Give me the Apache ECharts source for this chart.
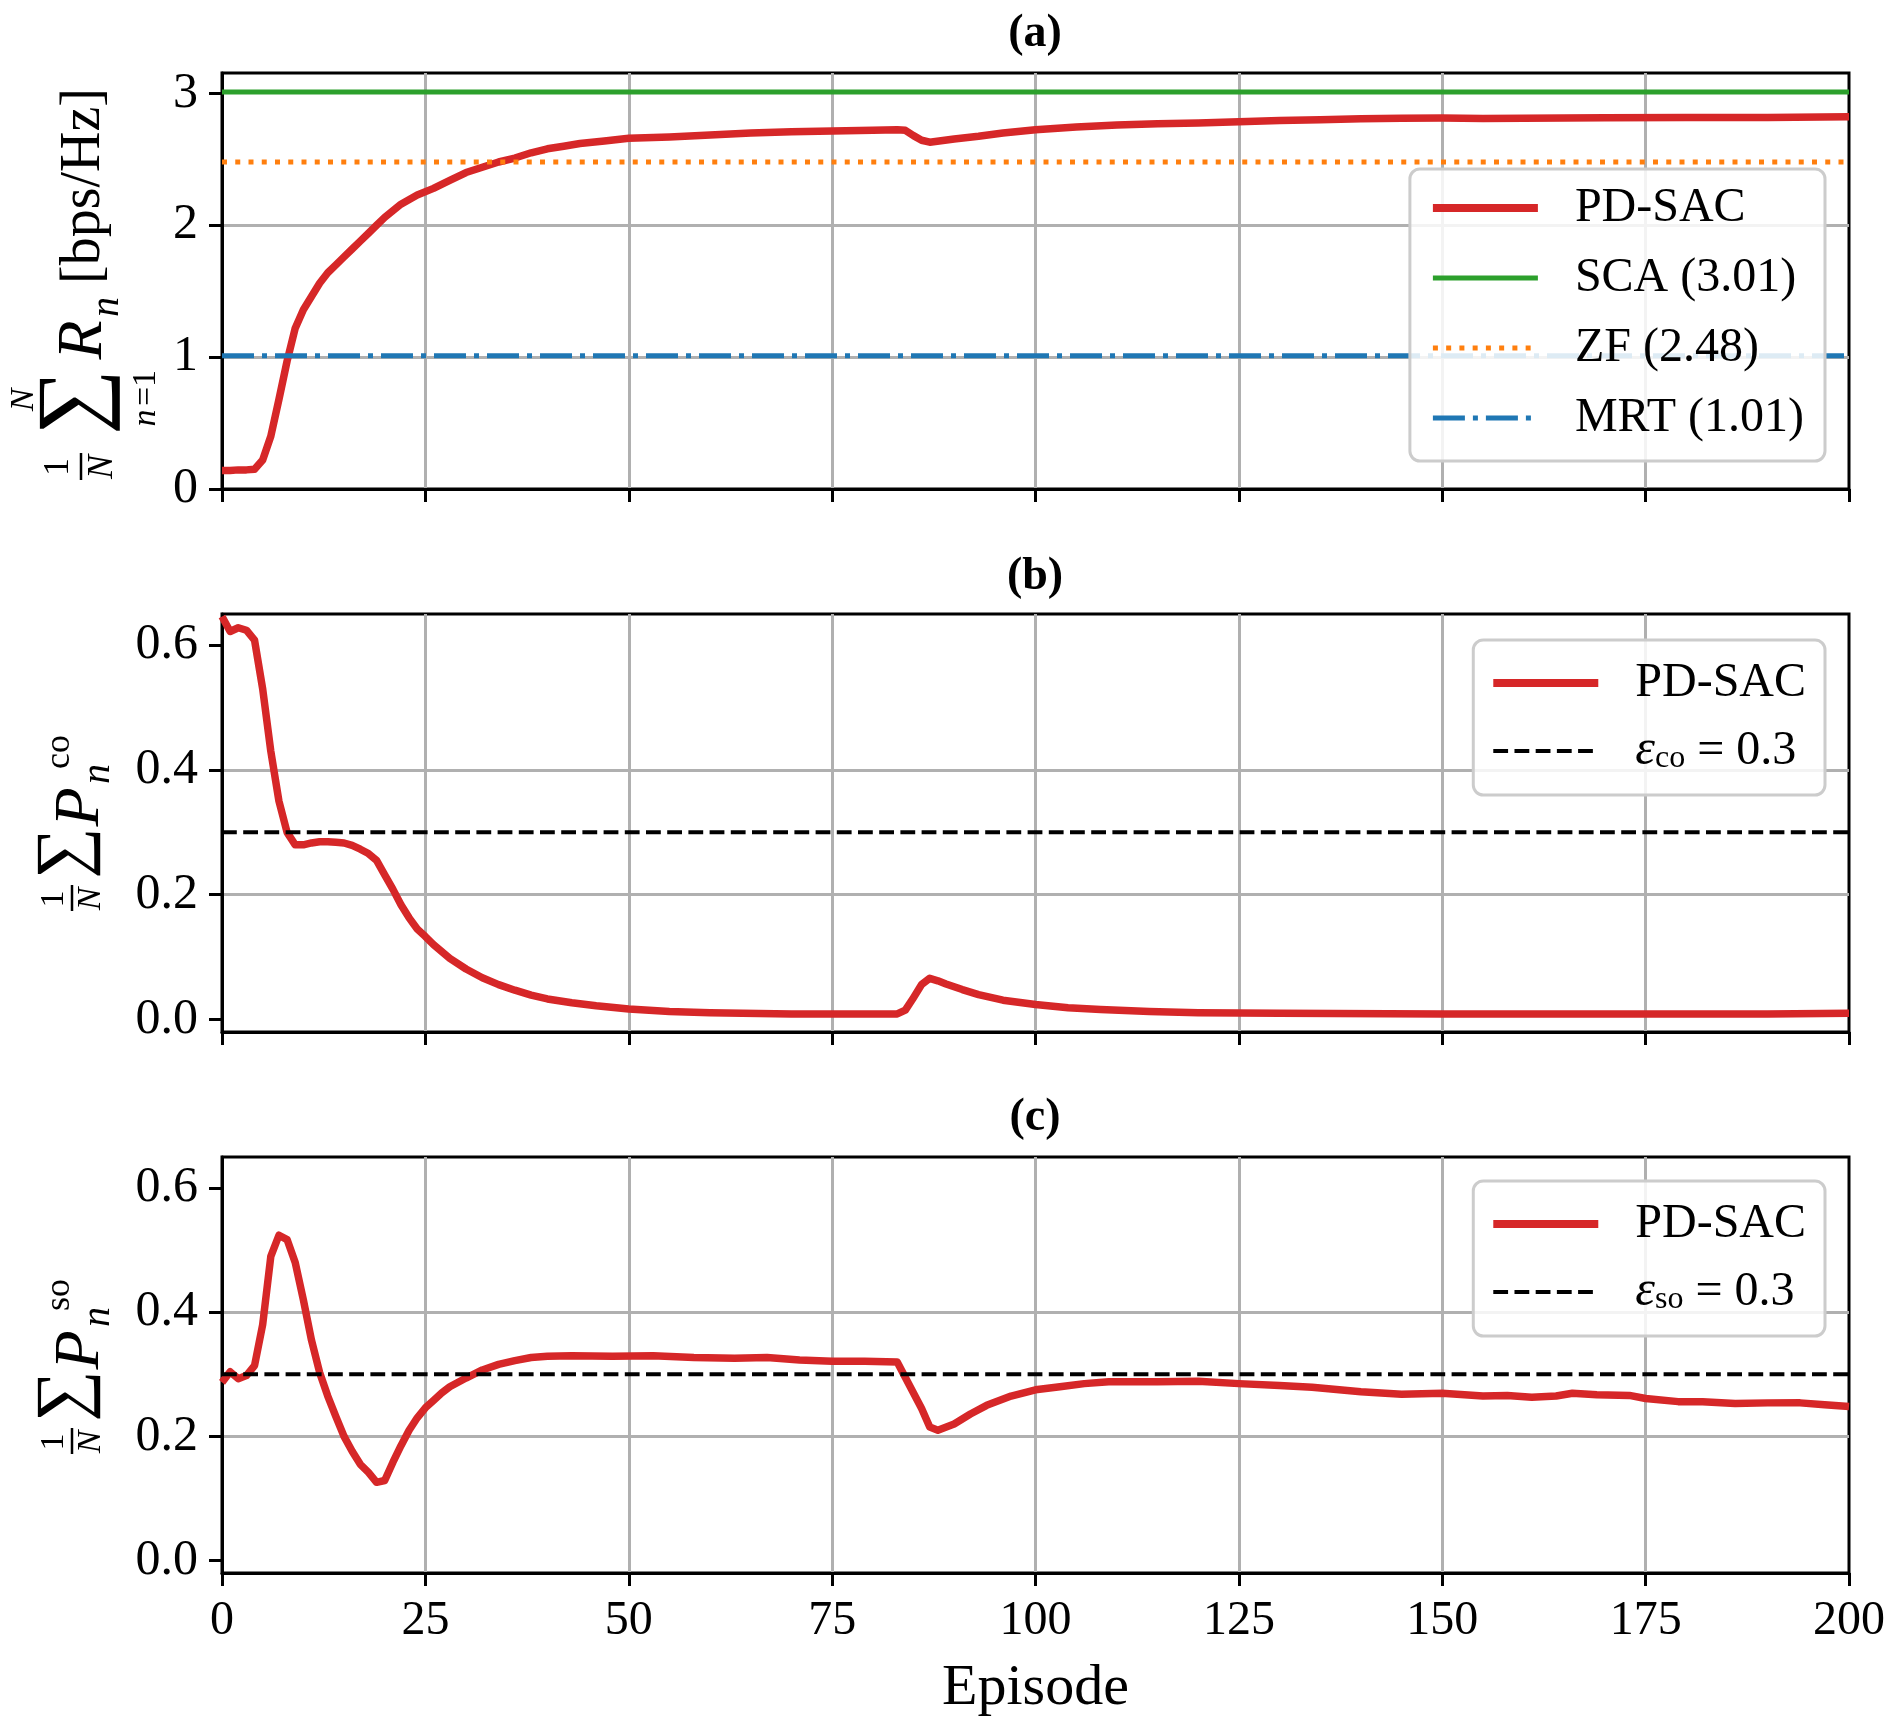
<!DOCTYPE html>
<html>
<head>
<meta charset="utf-8">
<title>PD-SAC training curves</title>
<script src="https://cdn.jsdelivr.net/npm/echarts@6/dist/echarts.min.js"></script>
<style>
  html, body { margin: 0; padding: 0; background: #fff; }
  #chart { width: 1904px; height: 1734px; }
</style>
</head>
<body>
<div id="chart"></div>
<script>
// values: [episode, value]
const rateCurve = [[0,0.14],[1,0.14],[2,0.145],[3,0.145],[4,0.15],[5,0.22],[6,0.40],[7,0.68],[8,0.97],[9,1.22],[10,1.36],
  [11,1.46],[12,1.56],[13,1.64],[14,1.70],[15,1.76],[16,1.82],[17,1.88],[18,1.94],[19,2.00],[20,2.06],[22,2.16],[24,2.23],
  [26,2.28],[28,2.34],[30,2.40],[32,2.44],[34,2.48],[36,2.51],[38,2.55],[40,2.58],[42,2.60],[44,2.62],[47,2.64],[50,2.66],
  [55,2.67],[60,2.685],[65,2.70],[70,2.71],[75,2.715],[80,2.72],[83,2.725],[84,2.72],[85,2.68],[86,2.645],[87,2.63],
  [90,2.655],[93,2.675],[96,2.70],[100,2.725],[105,2.745],[110,2.76],[115,2.77],[120,2.775],[125,2.785],[130,2.795],
  [135,2.80],[140,2.808],[145,2.812],[150,2.813],[155,2.81],[160,2.812],[170,2.815],[180,2.818],[190,2.818],[200,2.823]];

const coCurve = [[0,0.646],[1,0.622],[2,0.628],[3,0.624],[4,0.608],[5,0.53],[6,0.43],[7,0.35],[8,0.30],[9,0.28],[10,0.28],
  [11,0.283],[12,0.285],[13,0.285],[14,0.284],[15,0.283],[16,0.279],[17,0.273],[18,0.266],[19,0.255],[20,0.232],[21,0.209],
  [22,0.184],[23,0.163],[24,0.145],[25,0.133],[26,0.12],[28,0.098],[30,0.081],[32,0.067],[34,0.056],[36,0.047],[38,0.039],
  [40,0.033],[43,0.027],[46,0.022],[50,0.017],[55,0.013],[60,0.011],[70,0.009],[83,0.009],[84,0.015],[85,0.035],[86,0.056],
  [87,0.066],[88,0.062],[89,0.057],[91,0.048],[93,0.04],[96,0.031],[100,0.024],[104,0.019],[108,0.016],[114,0.013],
  [120,0.011],[130,0.01],[150,0.009],[190,0.009],[200,0.01]];

const soCurve = [[0,0.287],[1,0.304],[2,0.293],[3,0.298],[4,0.314],[5,0.38],[6,0.49],[7,0.524],[8,0.517],[9,0.48],[10,0.42],
  [11,0.355],[12,0.303],[13,0.265],[14,0.232],[15,0.2],[16,0.176],[17,0.155],[18,0.142],[19,0.126],[20,0.129],[21,0.158],
  [22,0.185],[23,0.21],[24,0.23],[25,0.246],[26,0.258],[27,0.27],[28,0.28],[30,0.294],[32,0.307],[34,0.316],[36,0.322],
  [38,0.327],[40,0.329],[43,0.33],[48,0.329],[53,0.33],[58,0.327],[63,0.326],[67,0.327],[71,0.323],[75,0.321],[79,0.321],
  [83,0.32],[84,0.295],[86,0.245],[87,0.215],[88,0.21],[90,0.22],[92,0.236],[94,0.25],[97,0.265],[100,0.275],[103,0.28],
  [106,0.285],[109,0.288],[115,0.288],[120,0.289],[125,0.285],[130,0.282],[134,0.279],[140,0.272],[145,0.268],[150,0.2695],
  [155,0.265],[158,0.266],[161,0.263],[164,0.265],[166,0.2695],[169,0.267],[173,0.266],[175,0.261],[179,0.256],[182,0.256],
  [186,0.253],[190,0.254],[194,0.254],[197,0.251],[200,0.248]];

const scaRate = 3.01;
const zfRate = 2.48;
const mrtRate = 1.01;
const epsCo = 0.3;
const epsSo = 0.3;

const rateTicks = [0, 1, 2, 3];
const probTicks = [0, 0.2, 0.4, 0.6];
const episodeRange = [0, 200];

const FONT = "'Liberation Serif', 'Times New Roman', serif";
const RED = '#d62728';

function flat(v) {
  return [[episodeRange[0], v], [episodeRange[1], v]];
}

const gridBoxes = [
  { top: 73, height: 416 },
  { top: 614, height: 418 },
  { top: 1157, height: 416 }
];

const grid = gridBoxes.map(g => ({
  left: 222, width: 1627, top: g.top, height: g.height,
  show: true, borderColor: '#000', borderWidth: 3, backgroundColor: 'transparent'
}));

const xAxis = gridBoxes.map((g, i) => ({
  type: 'value', gridIndex: i, min: 0, max: 200, interval: 25,
  axisLine: { show: true, onZero: false, lineStyle: { color: '#000', width: 3 } },
  axisTick: { show: true, inside: false, length: 13, lineStyle: { color: '#000', width: 3 } },
  axisLabel: { show: i === 2, color: '#000', fontSize: 48, fontFamily: FONT, margin: 24 },
  splitLine: { show: true, showMinLine: false, showMaxLine: false, lineStyle: { color: '#b0b0b0', width: 3 } },
  name: i === 2 ? 'Episode' : '',
  nameLocation: 'middle',
  nameGap: 87,
  nameTextStyle: { color: '#000', fontSize: 58, fontFamily: FONT }
}));

function yAx(i, min, max, ticks, fmt) {
  return {
    type: 'value', gridIndex: i, min: min, max: max,
    axisLine: { show: true, onZero: false, lineStyle: { color: '#000', width: 3 } },
    axisTick: { show: true, inside: false, length: 13, customValues: ticks, lineStyle: { color: '#000', width: 3 } },
    axisLabel: { color: '#000', fontSize: 50, fontFamily: FONT, margin: 24, customValues: ticks, formatter: fmt },
    splitLine: { show: true, showMinLine: false, showMaxLine: false, lineStyle: { color: '#b0b0b0', width: 3 } }
  };
}

const yAxis = [
  yAx(0, 0, 3.155, rateTicks, v => String(Math.round(v))),
  yAx(1, -0.02, 0.65, probTicks, v => v.toFixed(1)),
  yAx(2, -0.02, 0.65, probTicks, v => v.toFixed(1))
];

function line(name, i, data, color, width, type) {
  return {
    type: 'line', name: name, xAxisIndex: i, yAxisIndex: i, data: data,
    showSymbol: false, symbol: 'none', silent: true,
    lineStyle: { color: color, width: width, type: type || 'solid', cap: 'butt', join: 'round' },
    itemStyle: { color: color }
  };
}

const series = [
  line('PD-SAC', 0, rateCurve, RED, 7.5),
  line('SCA (3.01)', 0, flat(scaRate), '#2ca02c', 5),
  line('ZF (2.48)', 0, flat(zfRate), '#ff7f0e', 5, [5, 8.25]),
  line('MRT (1.01)', 0, flat(mrtRate), '#1f77b4', 5, [32, 8, 5, 8]),
  line('PD-SAC', 1, coCurve, RED, 7.5),
  line('eco', 1, flat(epsCo), '#000', 4, [14.8, 6.4]),
  line('PD-SAC', 2, soCurve, RED, 7.5),
  line('eso', 2, flat(epsSo), '#000', 4, [14.8, 6.4])
];

const legendText = {
  color: '#000', fontSize: 48, fontFamily: FONT, lineHeight: 50, padding: [0, 0, 0, 32],
  rich: {
    e: { fontSize: 50, fontFamily: FONT, fontStyle: 'italic', color: '#000', lineHeight: 50 },
    s: { fontSize: 32, fontFamily: FONT, color: '#000', lineHeight: 50, padding: [16, 0, 0, 0] },
    t: { fontSize: 48, fontFamily: FONT, color: '#000', lineHeight: 50 }
  }
};

function legendFmt(name) {
  if (name === 'eco') return '{e|ε}{s|co}{t| = 0.3}';
  if (name === 'eso') return '{e|ε}{s|so}{t| = 0.3}';
  return name;
}

// the line legend icon always carries a marker; hide it
const noMark = { opacity: 0 };

function legendBox(top, items, pad, gap) {
  return {
    orient: 'vertical', right: 79, top: top, selectedMode: false,
    itemWidth: 105, itemHeight: 20, itemGap: gap, padding: pad,
    backgroundColor: 'rgba(255,255,255,0.85)', borderColor: '#cccccc', borderWidth: 3, borderRadius: 10,
    itemStyle: noMark,
    textStyle: legendText, formatter: legendFmt, data: items
  };
}

const legend = [
  legendBox(169, [
    { name: 'PD-SAC', itemStyle: noMark, lineStyle: { width: 8 } },
    { name: 'SCA (3.01)', itemStyle: noMark, lineStyle: { width: 5 } },
    { name: 'ZF (2.48)', itemStyle: noMark, lineStyle: { width: 5, type: [5, 8.25] } },
    { name: 'MRT (1.01)', itemStyle: noMark, lineStyle: { width: 5, type: [32, 8, 5, 8] } }
  ], [14, 21, 18, 19], 20),
  legendBox(640, [
    { name: 'PD-SAC', itemStyle: noMark, lineStyle: { width: 8 } },
    { name: 'eco', itemStyle: noMark, lineStyle: { width: 4, type: [14.8, 6.4] } }
  ], [18, 19, 19, 16], 18),
  legendBox(1181, [
    { name: 'PD-SAC', itemStyle: noMark, lineStyle: { width: 8 } },
    { name: 'eso', itemStyle: noMark, lineStyle: { width: 4, type: [14.8, 6.4] } }
  ], [18, 19, 19, 16], 18)
];

// text pieces of the rotated axis titles (local coords, x runs upward on screen)
function txt(x, y, text, size, italic, align) {
  return {
    type: 'text', x: x, y: y,
    style: {
      text: text, fontSize: size, fontFamily: FONT, fontStyle: italic ? 'italic' : 'normal',
      fill: '#000', align: align || 'center', verticalAlign: 'middle',
      textAlign: align || 'center', textVerticalAlign: 'middle'
    }
  };
}

function bar(x1, x2, y) {
  return { type: 'line', shape: { x1: x1, y1: y, x2: x2, y2: y }, style: { stroke: '#000', lineWidth: 2.5 } };
}

function pLabel(cx, cy, sup) {
  return {
    type: 'group', x: cx, y: cy, rotation: Math.PI / 2, silent: true,
    children: [
      txt(11, -20, '1', 34),
      bar(-1, 25, -2),
      txt(11, 17, 'N', 34, true),
      txt(57, -8, '∑', 72),
      txt(103, 7, 'P', 64, true),
      txt(136, 24, 'n', 40, true),
      txt(158, -14, sup, 36)
    ]
  };
}

const rateLabel = {
  type: 'group', x: 85, y: 480, rotation: Math.PI / 2, silent: true,
  children: [
    txt(13, -26, '1', 36),
    bar(0, 27, -4),
    txt(13, 18, 'N', 36, true),
    txt(78, -9, '∑', 92),
    txt(80, -61, 'N', 34, true),
    txt(62, 61, 'n', 34, true),
    txt(92, 61, '=1', 34),
    txt(140, -1, 'R', 64, true),
    txt(173, 22, 'n', 40, true),
    txt(196, -1, '[bps/Hz]', 56, false, 'left')
  ]
};

function title(text, y) {
  return {
    type: 'text', x: 1035, y: y, silent: true,
    style: {
      text: text, fontSize: 46, fontWeight: 'bold', fontFamily: FONT, fill: '#000',
      align: 'center', verticalAlign: 'middle', textAlign: 'center', textVerticalAlign: 'middle'
    }
  };
}

const myChart = echarts.init(document.getElementById('chart'), null, { renderer: 'canvas' });
myChart.setOption({
  animation: false,
  backgroundColor: '#fff',
  grid: grid,
  xAxis: xAxis,
  yAxis: yAxis,
  legend: legend,
  series: series,
  graphic: [
    title('(a)', 34), title('(b)', 577), title('(c)', 1118),
    rateLabel,
    pLabel(74, 910, 'co'),
    pLabel(74, 1453, 'so')
  ]
});
</script>
</body>
</html>
